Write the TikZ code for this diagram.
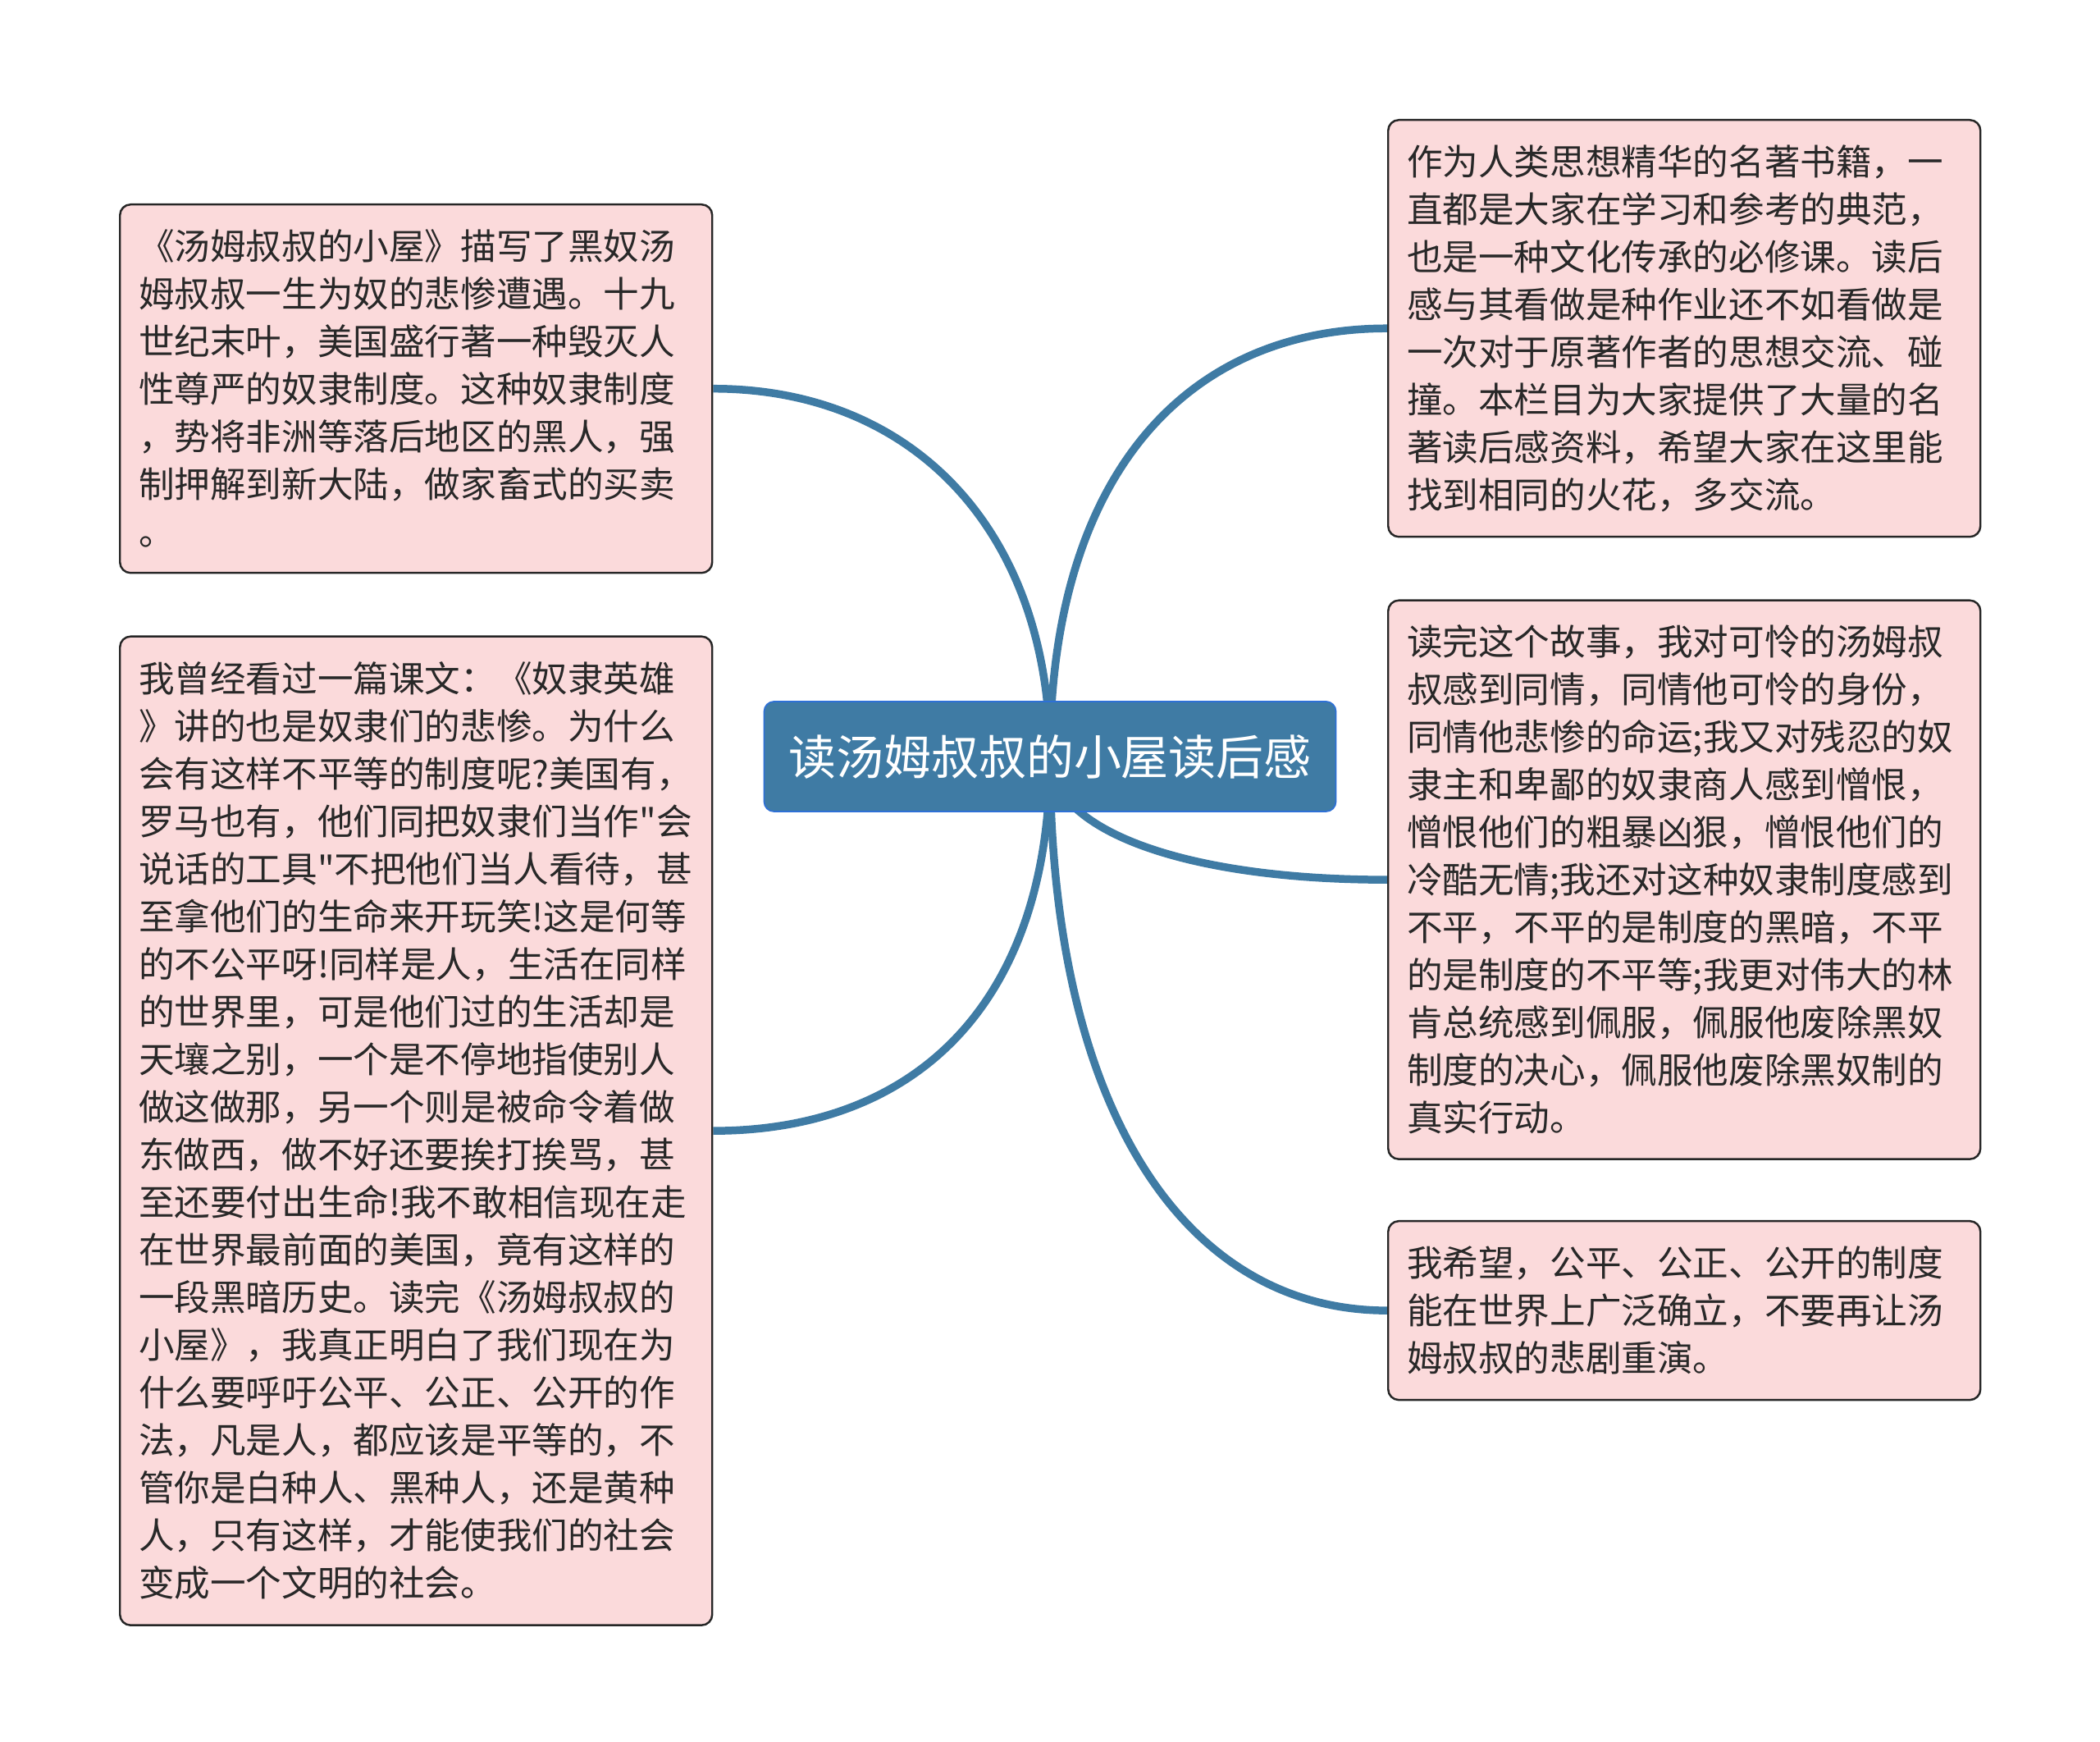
\documentclass[tikz,border=0pt]{standalone}
\usepackage{fontspec}
\setmainfont{Noto Sans CJK SC}[Ligatures=TeXOff]
\definecolor{steel}{RGB}{63, 123, 164}
\definecolor{edgeblue}{RGB}{46, 112, 214}
\definecolor{blush}{RGB}{251, 218, 219}
\definecolor{ink}{RGB}{40, 40, 40}
\usetikzlibrary{positioning,backgrounds}

\begin{document}
\begin{tikzpicture}[node distance=0.75cm]
  \tikzstyle{topic} = [draw=edgeblue, line width=0.5pt, fill=steel, rounded corners=0.12cm, minimum width=6.97cm, minimum height=1.34cm, text=white, font=\fontsize{16.5pt}{20pt}\selectfont]
  \tikzstyle{note} = [draw=black!85, line width=0.7pt, fill=blush, rounded corners=0.13cm, text width=6.76cm, inner xsep=0.23cm, align=left, text=ink, font=\fontsize{12.4pt}{16.5pt}\selectfont]
  \tikzstyle{ln} = [draw=steel, line width=2.7pt]

  \useasboundingbox (0,0) rectangle (25.6,-21.23);

  \node [topic] (book) at (12.80,-9.22) {读汤姆叔叔的小屋读后感};

  \node [note, minimum height=4.49cm, anchor=north west] (story) at (1.45,-2.48) {《汤姆叔叔的小屋》描写了黑奴汤\\
    姆叔叔一生为奴的悲惨遭遇。十九\\
    世纪末叶，美国盛行著一种毁灭人\\
    性尊严的奴隶制度。这种奴隶制度\\
    ，势将非洲等落后地区的黑人，强\\
    制押解到新大陆，做家畜式的买卖\\
    。};
  \node [note, minimum height=12.05cm, below=of story] (lesson) {我曾经看过一篇课文：《奴隶英雄\\
    》讲的也是奴隶们的悲惨。为什么\\
    会有这样不平等的制度呢?美国有，\\
    罗马也有，他们同把奴隶们当作"会\\
    说话的工具"不把他们当人看待，甚\\
    至拿他们的生命来开玩笑!这是何等\\
    的不公平呀!同样是人，生活在同样\\
    的世界里，可是他们过的生活却是\\
    天壤之别，一个是不停地指使别人\\
    做这做那，另一个则是被命令着做\\
    东做西，做不好还要挨打挨骂，甚\\
    至还要付出生命!我不敢相信现在走\\
    在世界最前面的美国，竟有这样的\\
    一段黑暗历史。读完《汤姆叔叔的\\
    小屋》，我真正明白了我们现在为\\
    什么要呼吁公平、公正、公开的作\\
    法，凡是人，都应该是平等的，不\\
    管你是白种人、黑种人，还是黄种\\
    人，只有这样，才能使我们的社会\\
    变成一个文明的社会。};

  \node [note, minimum height=5.08cm, anchor=north west] (classic) at (16.91,-1.45) {作为人类思想精华的名著书籍，一\\
    直都是大家在学习和参考的典范，\\
    也是一种文化传承的必修课。读后\\
    感与其看做是种作业还不如看做是\\
    一次对于原著作者的思想交流、碰\\
    撞。本栏目为大家提供了大量的名\\
    著读后感资料，希望大家在这里能\\
    找到相同的火花，多交流。};
  \node [note, minimum height=6.81cm, below=of classic] (feeling) {读完这个故事，我对可怜的汤姆叔\\
    叔感到同情，同情他可怜的身份，\\
    同情他悲惨的命运;我又对残忍的奴\\
    隶主和卑鄙的奴隶商人感到憎恨，\\
    憎恨他们的粗暴凶狠，憎恨他们的\\
    冷酷无情;我还对这种奴隶制度感到\\
    不平，不平的是制度的黑暗，不平\\
    的是制度的不平等;我更对伟大的林\\
    肯总统感到佩服，佩服他废除黑奴\\
    制度的决心，佩服他废除黑奴制的\\
    真实行动。};
  \node [note, minimum height=2.18cm, below=0.73cm of feeling] (hope) {我希望，公平、公正、公开的制度\\
    能在世界上广泛确立，不要再让汤\\
    姆叔叔的悲剧重演。};

  \begin{scope}[on background layer]
    \draw [ln] (book.center) to[out=90, in=0, out distance=2.7cm, in distance=2.48cm] (story.east);
    \draw [ln] (book.center) to[out=-90, in=0, out distance=3.0cm, in distance=2.48cm] (lesson.east);
    \draw [ln] (book.center) to[out=90, in=180, out distance=3.4cm, in distance=2.47cm] (classic.west);
    \draw [ln] (book.center) to[out=-90, in=180, out distance=0.9cm, in distance=2.47cm] (feeling.west);
    \draw [ln] (book.center) to[out=-90, in=180, out distance=4.3cm, in distance=2.47cm] (hope.west);
  \end{scope}
\end{tikzpicture}
\end{document}
